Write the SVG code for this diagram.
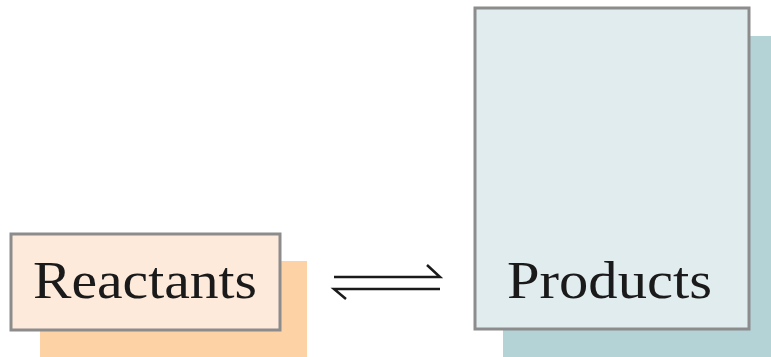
<svg xmlns="http://www.w3.org/2000/svg" width="771" height="357" viewBox="0 0 771 357">
<style>
.box{stroke:#8c8c8c;stroke-width:3}
.lbl{font-family:"Liberation Serif",serif;font-size:52px;fill:#1a1a1a}
.arr{stroke:#1a1a1a;stroke-width:2.5;fill:none;stroke-linecap:butt}
</style>
<rect width="771" height="357" fill="#ffffff"/>
<g id="reactants">
<rect x="40" y="261" width="267" height="96" fill="#fdd3a6"/>
<rect class="box" x="11" y="234" width="269" height="96" fill="#fdeadb"/>
<text class="lbl" x="33" y="298" textLength="224" lengthAdjust="spacingAndGlyphs">Reactants</text>
</g>
<g id="products">
<rect x="503" y="36" width="268" height="321" fill="#b3d3d6"/>
<rect class="box" x="475" y="8" width="274" height="321" fill="#e1ecee"/>
<text class="lbl" x="507" y="298" textLength="205" lengthAdjust="spacingAndGlyphs">Products</text>
</g>
<g id="connectors">
<path class="arr" d="M334 277H440L427 265"/>
<path class="arr" d="M440 289H334L346 299"/>
</g>
</svg>
